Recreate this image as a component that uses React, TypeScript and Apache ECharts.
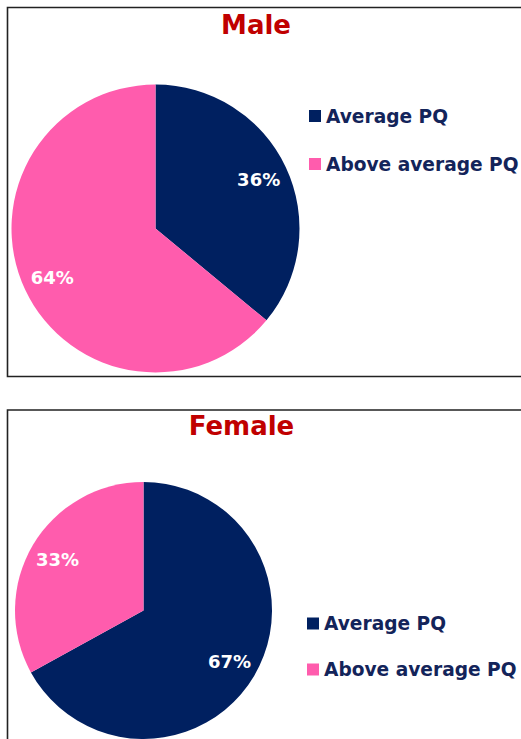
import React, { useEffect, useRef } from "react";
import * as echarts from "echarts";

const categories = ["Average PQ", "Above average PQ"];
const maleValues = [36, 64];
const femaleValues = [67, 33];
const titles = ["Male", "Female"];
const colors = ["#002060", "#FF5CAD"];

const FONT = "DejaVu Sans";

export default function App() {
  const ref = useRef<HTMLDivElement>(null);
  useEffect(() => {
    if (!ref.current) return;
    const chart = echarts.init(ref.current, undefined, { renderer: "svg" });

    const mk = (vals: number[]) =>
      categories.map((n, i) => ({ name: n, value: vals[i], itemStyle: { color: colors[i] } }));
    const mkLabel = (vals: number[]) =>
      categories.map((n, i) => ({ name: n, value: vals[i], itemStyle: { color: "rgba(0,0,0,0)" } }));

    const labelStyle = {
      show: true,
      position: "inside",
      formatter: "{c}%",
      color: "#ffffff",
      fontFamily: FONT,
      fontWeight: "bold",
      fontSize: 18,
    };

    const pieBase = {
      type: "pie",
      startAngle: 90,
      clockwise: true,
      animation: false,
      labelLine: { show: false },
      emphasis: { disabled: true },
    };

    const legendBase = {
      orient: "vertical",
      icon: "rect",
      itemWidth: 12,
      itemHeight: 12,
      padding: 0,
      selectedMode: false,
      textStyle: {
        fontFamily: FONT,
        fontWeight: "bold",
        fontSize: 18.6,
        lineHeight: 20,
        color: "#13245A",
      },
      data: categories.map((n, i) => ({ name: n, itemStyle: { color: colors[i] } })),
    };

    chart.setOption({
      animation: false,
      backgroundColor: "#ffffff",
      graphic: [
        {
          type: "rect",
          shape: { x: 7.5, y: 7.5, width: 530, height: 369 },
          style: { fill: "none", stroke: "#222222", lineWidth: 1.6 },
          z: 0,
        },
        {
          type: "rect",
          shape: { x: 7.5, y: 410, width: 530, height: 360 },
          style: { fill: "none", stroke: "#222222", lineWidth: 1.6 },
          z: 0,
        },
        {
          type: "text",
          x: 256,
          y: 25,
          style: {
            text: titles[0],
            fill: "#C00000",
            font: `bold 26px "${FONT}"`,
            textAlign: "center",
            textVerticalAlign: "middle",
          },
        },
        {
          type: "text",
          x: 241.5,
          y: 426,
          style: {
            text: titles[1],
            fill: "#C00000",
            font: `bold 26px "${FONT}"`,
            textAlign: "center",
            textVerticalAlign: "middle",
          },
        },
      ],
      legend: [
        { ...legendBase, left: 309, top: 106, itemGap: 28 },
        { ...legendBase, left: 307, top: 613.5, itemGap: 26 },
      ],
      series: [
        {
          ...pieBase,
          name: "Male",
          center: [155.5, 228.5],
          radius: [0, 144],
          label: { show: false },
          data: mk(maleValues),
        },
        {
          ...pieBase,
          name: "MaleLabels",
          silent: true,
          center: [155.5, 228.5],
          radius: [0, 222],
          label: labelStyle,
          data: mkLabel(maleValues),
        },
        {
          ...pieBase,
          name: "Female",
          center: [143.5, 610.5],
          radius: [0, 128.5],
          label: { show: false },
          data: mk(femaleValues),
        },
        {
          ...pieBase,
          name: "FemaleLabels",
          silent: true,
          center: [143.5, 610.5],
          radius: [0, 194],
          label: labelStyle,
          data: mkLabel(femaleValues),
        },
      ],
    });
    return () => chart.dispose();
  }, []);

  return (
    <div
      ref={ref}
      style={{ position: "absolute", left: 0, top: 0, width: 521, height: 739 }}
    />
  );
}
